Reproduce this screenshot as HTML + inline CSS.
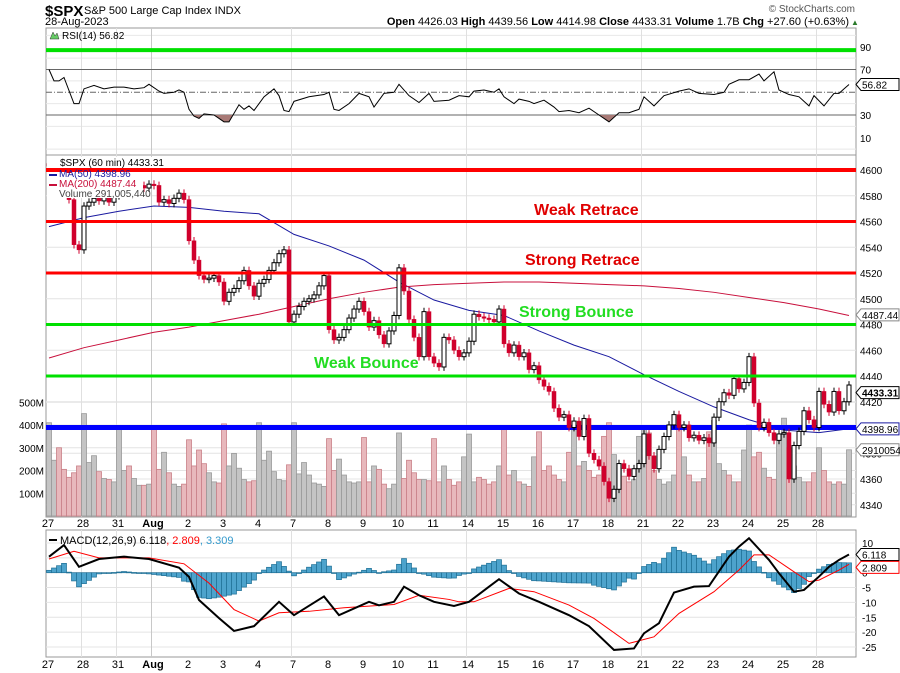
<!DOCTYPE html>
<html><head><meta charset="utf-8">
<style>
html,body{margin:0;padding:0;background:#fff;}
svg{display:block;font-family:"Liberation Sans",Arial,sans-serif;}
</style></head>
<body>
<svg id="chart" width="900" height="673" viewBox="0 0 900 673" xmlns="http://www.w3.org/2000/svg">
<g>
<text x="45" y="16" font-size="15" font-weight="bold" fill="#000">$SPX</text>
<text x="84" y="14" font-size="11" fill="#000">S&amp;P 500 Large Cap Index  INDX</text>
<text x="45" y="25" font-size="11" fill="#000">28-Aug-2023</text>
<text x="855" y="12" font-size="10" fill="#555" text-anchor="end">© StockCharts.com</text>
<text x="849" y="25" font-size="11" text-anchor="end" fill="#000"><tspan font-weight="bold">Open</tspan> 4426.03  <tspan font-weight="bold">High</tspan> 4439.56  <tspan font-weight="bold">Low</tspan> 4414.98  <tspan font-weight="bold">Close</tspan> 4433.31  <tspan font-weight="bold">Volume</tspan> 1.7B  <tspan font-weight="bold">Chg</tspan> +27.60 (+0.63%)</text>
<text x="851" y="25" font-size="8" fill="#2a7a2a">▲</text>
</g>
<g id="grid"></g>
<g id="vol"></g>
<g id="lines"></g>
<g id="candles"></g>
<g id="rsi"></g>
<g id="macd"></g>
<g id="labels"></g>
</svg>
<script>
// ---------- DATA ----------
const days = ["27","28","31","Aug","2","3","4","7","8","9","10","11","14","15","16","17","18","21","22","23","24","25","28"];
const closes = [
4603,4606,4605,4603,4577,4542,4538,
4572,4575,4578,4576,4579,4575,4580,
4584,4585,4583,4586,4588,4586,4589,
4588,4575,4577,4574,4578,4582,4577,
4545,4530,4518,4515,4516,4518,4513,
4498,4505,4508,4514,4522,4510,4502,
4512,4515,4522,4528,4535,4538,4482,
4488,4494,4498,4500,4503,4510,4518,
4476,4468,4470,4476,4485,4492,4498,
4490,4478,4483,4472,4465,4475,4487,
4524,4506,4484,4470,4455,4490,4455,
4450,4447,4470,4468,4460,4455,4458,
4467,4488,4486,4485,4484,4482,4492,
4465,4458,4464,4455,4458,4445,4448,
4437,4432,4428,4415,4408,4410,4400,
4405,4393,4407,4380,4375,4370,4358,
4345,4352,4372,4368,4362,4368,4372,
4395,4378,4368,4383,4393,4402,4410,
4400,4402,4392,4394,4390,4392,4388,
4408,4420,4427,4425,4438,4430,4435,
4455,4419,4400,4404,4396,4390,4395,
4396,4360,4386,4397,4413,4406,4400,
4428,4418,4412,4428,4413,4420,4433];
const volumes = [
410,245,300,205,170,190,220,
450,235,265,195,165,160,150,
390,200,220,165,135,135,140,
390,205,280,190,140,130,140,
335,220,290,230,190,150,145,
405,220,275,210,160,150,155,
410,245,285,195,160,155,225,
410,185,235,180,145,140,130,
340,200,250,180,150,145,150,
345,150,220,205,140,120,140,
365,165,245,190,160,160,155,
340,150,220,160,135,150,260,
360,150,170,160,140,150,220,
390,180,200,150,140,130,260,
370,200,220,180,160,150,280,
400,220,240,200,170,180,350,
410,270,210,175,150,160,350,
380,365,200,160,140,150,180,
380,260,180,150,150,165,370,
420,230,200,180,150,150,290,
400,260,280,210,170,160,360,
430,300,220,170,150,150,190,
300,200,150,140,150,140,291];
const ma50Idx = [0,7,14,21,28,35,42,49,56,63,70,77,84,91,98,105,112,119,126,133,140,147,154,160];
const ma50Val = [4556,4563,4568,4572,4571,4568,4566,4550,4541,4530,4513,4499,4491,4487,4475,4464,4455,4441,4428,4416,4406,4398,4396,4399];
const ma200Val = [4454,4462,4468,4474,4478,4483,4488,4494,4500,4505,4509,4511,4512,4513,4513,4512,4511,4510,4508,4505,4501,4497,4492,4487];
const levelPrices = [4600,4560,4520,4480,4440];
const levelColors = ["#ff0000","#ff0000","#ff0000","#00e000","#00e000"];
const levelNames = ["","Weak Retrace","Strong Retrace","Strong Bounce","Weak Bounce"];
const priceTicks = [4600,4580,4560,4540,4520,4500,4480,4460,4440,4420,4400,4380,4360,4340];
const volTicks = [500,400,300,200,100];
const volTickLabels = ["500M","400M","300M","200M","100M"];
const rsiIdx = [0,1,2,3,5,6,7,9,11,13,15,17,19,20,22,23,25,26,27,28,29,30,31,33,35,36,38,39,40,41,43,45,46,47,48,49,52,55,56,57,58,60,62,64,65,67,69,70,72,74,76,77,80,82,84,85,87,89,90,91,93,94,96,97,99,101,102,104,106,108,110,112,114,116,118,119,121,123,126,128,130,133,135,136,138,140,142,143,145,146,148,150,152,153,155,157,158,159,160];
const rsiVal = [70,60,60,63,40,40,53,56,53,54.5,54.5,53,54,57,51,49,50,52,50,35,29,27,31,30,24,24,39,35,38,34,46,53,47,34,33,42,46,48,50,35,34,40,49,46,37,49,50,57,47,41,49,42,43,47,46,51,52,50,53,46,40,44,42,40,43,37,33,34,32,36,30,24,32,32,35,46,38,47,51,53,49,48,50,57,61,61,66,60,68,52,48,46,38,47,38,49,49,53,56.82];
const rsiTicks = [90,70,50,30,10];
const macdIdx = [0,3,6,10,15,20,26,28,30,34,37,41,46,49,55,58,64,66,69,71,74,77,81,84,88,90,94,98,104,108,113,117,119,122,125,129,132,136,138,140,144,146,149,151,154,156,158,160];
const macdVal = [5.4,9.3,2,4.6,5.4,4.6,1.7,-1.4,-9.2,-15.3,-19.6,-18,-9.8,-14.3,-8,-14.3,-9.8,-11,-9.8,-4.7,-7.6,-9.8,-11.2,-9.8,-4.7,-2.2,-7,-9.8,-14.3,-18,-26,-25.5,-20.4,-17,-6.7,-4.7,-4.5,5.4,8.8,11.6,4.3,-0.2,-6.4,-5.8,-1.3,2,4.3,6.118];
const sigIdx = [0,5,10,20,27,32,37,42,46,52,59,69,74,80,82,85,92,97,104,109,116,121,126,133,138,141,144,149,152,154,158,160];
const sigVal = [4.6,7.2,5,5,3,-3.5,-12.4,-16.3,-13.5,-13,-11.8,-10.7,-7.6,-9,-9.8,-9.8,-5.3,-6.4,-10.9,-15.4,-23.8,-21.6,-13.7,-6.4,0.9,6,6,0.3,-3,-2.5,0.9,2.809];
const macdTicks = [10,5,0,-5,-10,-15,-20,-25];

// ---------- SCALES ----------
const L=46, R=856;
const xBar = i => 49 + 5*i;
const yP = p => 170 + (4600-p)*1.2875;
const yV = v => 516 - v*0.2275;
const yR = r => 92.25 - (r-50)*1.1375;
const yM = m => 572.7 - m*2.97;
const NS="http://www.w3.org/2000/svg";
function mk(tag, attrs, parent){const e=document.createElementNS(NS,tag);for(const k in attrs)e.setAttribute(k,attrs[k]);parent.appendChild(e);return e;}
const G=id=>document.getElementById(id);
function interp(idx,val,i){for(let k=0;k<idx.length-1;k++){if(i>=idx[k]&&i<=idx[k+1]){const t=(i-idx[k])/(idx[k+1]-idx[k]||1);return val[k]+t*(val[k+1]-val[k]);}}return val[val.length-1];}

// ---------- GRID / PANELS ----------
const grid=G('grid');
const panels=[[28,155,"rsi-panel"],[155,517,"price-panel"],[530,657,"macd-panel"]];
panels.forEach(p=>{
  const r=mk('rect',{x:L,y:p[0],width:R-L,height:p[1]-p[0],fill:'#fff',stroke:'#999','stroke-width':1},grid);
  
  
});
priceTicks.forEach(t=>mk('line',{x1:L,x2:R,y1:yP(t),y2:yP(t),stroke:'#e4e4e4'},grid));
volTicks.forEach(t=>mk('line',{x1:L,x2:R,y1:yV(t),y2:yV(t),stroke:'#e4e4e4'},grid));
[100,80,60,40,20,0].forEach(t=>mk('line',{x1:L,x2:R,y1:yR(t),y2:yR(t),stroke:'#e8e8e8'},grid));
macdTicks.forEach(t=>mk('line',{x1:L,x2:R,y1:yM(t),y2:yM(t),stroke:'#e4e4e4'},grid));
days.forEach((d,k)=>{
  if(["31","Aug","7","14","21","28"].includes(d)&&k>0){
    const x=xBar(k*7)-2.5;
    [[28,155],[155,517],[530,657]].forEach(p=>mk('line',{x1:x,x2:x,y1:p[0],y2:p[1],stroke:d==="Aug"?'#c8c8c8':'#e0e0e0'},grid));
  }
});
const lab=G('labels');
days.forEach((d,k)=>{
  const x=xBar(k*7)-1;
  [[517,527],[657,668]].forEach((yy,j)=>{
    const t=mk('text',{x:x,y:yy[1],'font-size':11,'text-anchor':'middle','font-weight':d==="Aug"?'bold':'normal',fill:'#000'},lab);
    t.textContent=d;
    
    
  });
});

// ---------- VOLUME ----------
const vol=G('vol');
volumes.forEach((v,i)=>{
  const o=i>0?closes[i-1]:closes[i];
  const down=closes[i]<o;
  const r=mk('rect',{x:xBar(i)-2.5,y:yV(v),width:5,height:516-yV(v),fill:down?'#e8b8bc':'#c4c4c4',stroke:down?'#c98088':'#999','stroke-width':0.8},vol);
  
  
});
volTicks.forEach((t,k)=>{
  const tx=mk('text',{x:44,y:yV(t)+4,'font-size':10,'text-anchor':'end',fill:'#000'},lab);
  tx.textContent=volTickLabels[k];
  
  
});

// ---------- MOVING AVERAGES + LEVELS ----------
const ln=G('lines');
function poly(idx,val,yf,color,w,name,parent){
  const pts=idx.map((ix,k)=>xBar(ix)+','+yf(val[k])).join(' ');
  const p=mk('polyline',{points:pts,fill:'none',stroke:color,'stroke-width':w},parent);
  
  
  return p;
}
poly(ma50Idx,ma50Val,yP,'#1a1aa0',1,'ma50-line',ln);
poly(ma50Idx,ma200Val,yP,'#c8103c',1,'ma200-line',ln);
const vl=mk('line',{x1:L,x2:R,y1:yP(4400),y2:yP(4400),stroke:'#0000ff','stroke-width':5},ln);


const lvlPos=[[0,0],[534,210],[525,260],[519,312],[314,363]];

// ---------- CANDLES ----------
const cd=G('candles');
mk('clipPath',{id:'pc'},cd).appendChild(document.createElementNS(NS,'rect'));
document.querySelector('#pc rect').setAttribute('x',L);
document.querySelector('#pc rect').setAttribute('y',163);
document.querySelector('#pc rect').setAttribute('width',R-L);
document.querySelector('#pc rect').setAttribute('height',354);
const cg=mk('g',{'clip-path':'url(#pc)'},cd);
closes.forEach((c,i)=>{
  const o=i>0?closes[i-1]:c+2;
  const hi=Math.max(o,c)+3, lo=Math.min(o,c)-3;
  const up=c>=o, x=xBar(i);
  const col=up?'#000':'#d0002c';
  mk('line',{x1:x,x2:x,y1:yP(hi),y2:yP(lo),stroke:col,'stroke-width':1},cg);
  const top=yP(Math.max(o,c)), h=Math.max(1.5,yP(Math.min(o,c))-top);
  const r=mk('rect',{x:x-2,y:top,width:4,height:h,fill:up?'#fff':'#d0002c',stroke:col,'stroke-width':up?1:0.5},cg);
  
  
});

// legend background (hides first candles like the reference)
const legBg=mk('rect',{x:47,y:173,width:96,height:25,fill:'#fff'},cd);


mk('rect',{x:47,y:157,width:120,height:11,fill:'#fff'},cd);

// level lines drawn over candles
levelPrices.forEach((p,k)=>{
  const l=mk('line',{x1:L,x2:R,y1:yP(p),y2:yP(p),stroke:levelColors[k],'stroke-width':k===0?4:3},cd);
  
  
});
levelNames.forEach((n,k)=>{
  if(!n)return;
  const t=mk('text',{x:lvlPos[k][0],y:lvlPos[k][1]+5,'font-size':16,'font-weight':'bold',fill:levelColors[k]==="#ff0000"?'#e00000':'#22dd22'},lab);
  t.textContent=n;
  
  
});

// price axis labels
priceTicks.forEach(t=>{
  const tx=mk('text',{x:860,y:yP(t)+4,'font-size':10,fill:'#000'},lab);
  tx.textContent=t;
  
  
});
function tag(y,text,stroke,bold,name){
  const g=mk('g',{},lab);
  mk('path',{d:`M856 ${y} L861 ${y-6} L899 ${y-6} L899 ${y+6} L861 ${y+6} Z`,fill:'#fff',stroke:stroke,'stroke-width':1},g);
  const t=mk('text',{x:862,y:y+4,'font-size':10,'font-weight':bold?'bold':'normal',fill:'#000'},g);
  t.textContent=text;
  
  
}
tag(yP(4487.44),"4487.44",'#888',false,'ma200-value-tag');
tag(yP(4433.31)+8,"4433.31",'#000',true,'last-price-tag');
tag(yP(4398.96),"4398.96",'#1a1aa0',false,'ma50-value-tag');
tag(yV(291),"2910054",'#888',false,'volume-value-tag');

// legends
function ltxt(x,y,s,c,name){const t=mk('text',{x:x,y:y,'font-size':10,fill:c},lab);t.textContent=s;}
ltxt(60,166,"$SPX (60 min) 4433.31",'#000','price-legend');
mk('rect',{x:49,y:174,width:8,height:2,fill:'#1a1aa0'},lab);
ltxt(59,177,"MA(50) 4398.96",'#1a1aa0','ma50-legend');
mk('rect',{x:49,y:184,width:8,height:2,fill:'#c8103c'},lab);
ltxt(59,187,"MA(200) 4487.44",'#c8103c','ma200-legend');
ltxt(59,197,"Volume 291,005,440",'#444','volume-legend');
ltxt(62,39,"RSI(14) 56.82",'#000','rsi-legend');
mk('path',{d:'M50 39 L53 32 L55 36 L57 33 L59 39 Z',fill:'#66cc66',stroke:'#333','stroke-width':0.5},lab);

// ---------- RSI ----------
const rs=G('rsi');
const g90=mk('line',{x1:L,x2:R,y1:yR(87),y2:yR(87),stroke:'#00e000','stroke-width':4},rs);


[70,30].forEach(t=>mk('line',{x1:L,x2:R,y1:yR(t),y2:yR(t),stroke:'#666','stroke-width':1},rs));
mk('line',{x1:L,x2:R,y1:yR(50),y2:yR(50),stroke:'#666','stroke-width':1,'stroke-dasharray':'6,2,1,2'},rs);
mk('clipPath',{id:'os'},rs);
const osr=document.createElementNS(NS,'rect');
osr.setAttribute('x',L);osr.setAttribute('y',yR(30));osr.setAttribute('width',R-L);osr.setAttribute('height',40);
G('os').appendChild(osr);
const fillPts=rsiIdx.map((ix,k)=>xBar(ix)+','+yR(rsiVal[k])).join(' ')+` ${xBar(160)},${yR(30)} ${xBar(0)},${yR(30)}`;
mk('polygon',{points:fillPts,fill:'#a87a76','clip-path':'url(#os)'},rs);
poly(rsiIdx,rsiVal,yR,'#000',1,'rsi-line',rs);
rsiTicks.forEach(t=>{
  if(t===50)return;
  const tx=mk('text',{x:860,y:yR(t)+4,'font-size':10,fill:'#000'},lab);
  tx.textContent=t;
  
  
});
tag(yR(56.82),"56.82",'#000',false,'rsi-value-tag');

// ---------- MACD ----------
const mc=G('macd');
for(let i=0;i<161;i++){
  const h=interp(macdIdx,macdVal,i)-interp(sigIdx,sigVal,i);
  const y0=yM(0), y1=yM(h);
  const r=mk('rect',{x:xBar(i)-2.5,y:Math.min(y0,y1),width:5,height:Math.max(0.8,Math.abs(y1-y0)),fill:'#4da3cc',stroke:'#1f6f95','stroke-width':0.7},mc);
  
  
}
poly(sigIdx,sigVal,yM,'#ff0000',1,'macd-signal-line',mc);
poly(macdIdx,macdVal,yM,'#000',2,'macd-line',mc);
macdTicks.forEach(t=>{
  const tx=mk('text',{x:862,y:yM(t)+4,'font-size':10,fill:'#000'},lab);
  tx.textContent=t;
  
  
});
tag(yM(6.118),"6.118",'#000',false,'macd-value-tag');
tag(yM(2.809)+3,"2.809",'#ff0000',false,'signal-value-tag');
mk('rect',{x:49,y:539,width:8,height:2,fill:'#000'},lab);
const ml=mk('text',{x:60,y:544,'font-size':11},lab);
ml.innerHTML='<tspan fill="#000">MACD(12,26,9) 6.118</tspan><tspan fill="#ff0000">, 2.809</tspan><tspan fill="#3399cc">, 3.309</tspan>';


</script>
</body></html>
